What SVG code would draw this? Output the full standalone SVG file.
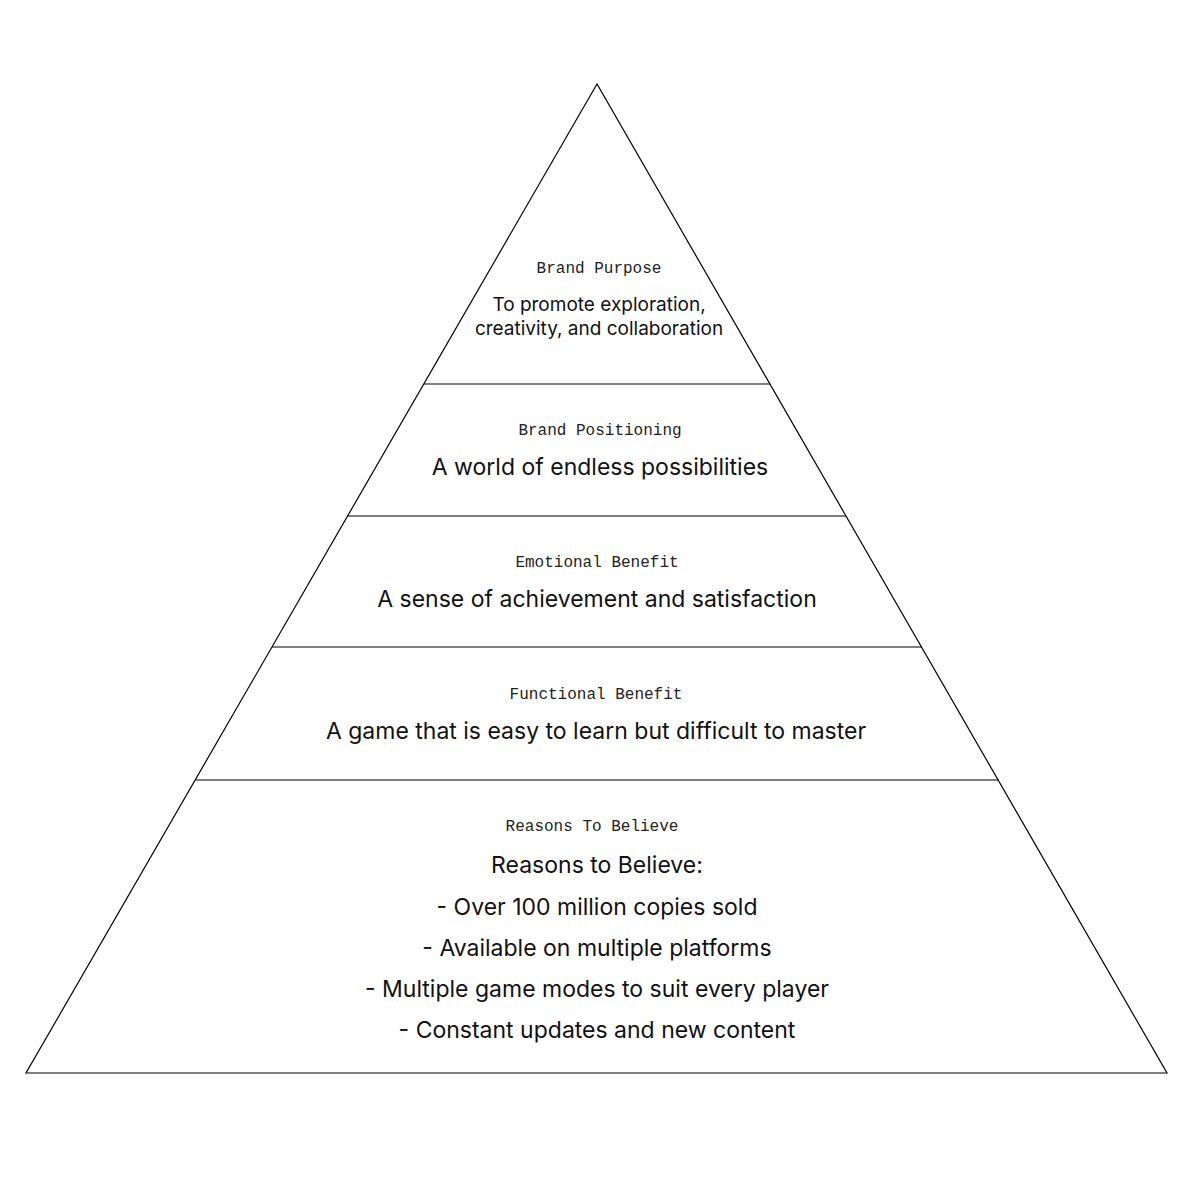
<svg xmlns="http://www.w3.org/2000/svg" width="1200" height="1200" viewBox="0 0 1200 1200">
<style>
.edge{fill:none;stroke:#000;stroke-width:1.2}
.lbl{font-family:"Liberation Mono","DejaVu Sans Mono",monospace;font-size:16px;fill:#222;text-anchor:middle;dominant-baseline:central}
.txt{font-family:Inter,"Noto Sans",sans-serif;font-size:23px;fill:#111;text-anchor:middle;dominant-baseline:central}
.sm{font-size:19px}
</style>
<rect width="1200" height="1200" fill="#fff"/>
<g id="connectors">
<polygon class="edge" points="597,84 26,1073 1167,1073"/>
<line class="edge" x1="424" y1="384" x2="770" y2="384"/>
<line class="edge" x1="348" y1="516" x2="846" y2="516"/>
<line class="edge" x1="272" y1="647" x2="922" y2="647"/>
<line class="edge" x1="195" y1="780" x2="999" y2="780"/>
</g>
<g id="brand-purpose">
<text class="lbl" x="599" y="269">Brand Purpose</text>
<text class="txt sm" x="599" y="304">To promote exploration,</text>
<text class="txt sm" x="599" y="328">creativity, and collaboration</text>
</g>
<g id="brand-positioning">
<text class="lbl" x="600" y="431">Brand Positioning</text>
<text class="txt" x="600" y="467">A world of endless possibilities</text>
</g>
<g id="emotional-benefit">
<text class="lbl" x="597" y="563">Emotional Benefit</text>
<text class="txt" x="597" y="599">A sense of achievement and satisfaction</text>
</g>
<g id="functional-benefit">
<text class="lbl" x="596" y="695">Functional Benefit</text>
<text class="txt" x="596" y="731">A game that is easy to learn but difficult to master</text>
</g>
<g id="reasons-to-believe">
<text class="lbl" x="592" y="827">Reasons To Believe</text>
<text class="txt" x="597" y="865">Reasons to Believe:</text>
<text class="txt" x="597" y="907">- Over 100 million copies sold</text>
<text class="txt" x="597" y="948">- Available on multiple platforms</text>
<text class="txt" x="597" y="989">- Multiple game modes to suit every player</text>
<text class="txt" x="597" y="1030">- Constant updates and new content</text>
</g>
</svg>
